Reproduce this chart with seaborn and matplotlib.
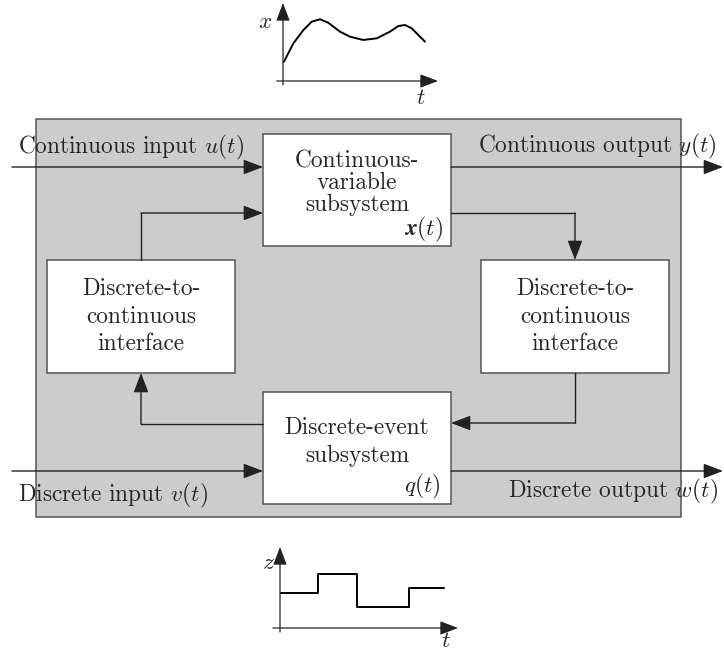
import matplotlib
matplotlib.use("Agg")
import matplotlib.pyplot as plt
import seaborn as sns
from matplotlib.patches import Rectangle

sns.set_theme(style="white")
plt.rcParams["font.family"] = ["cmr10", "DejaVu Serif"]
plt.rcParams["mathtext.fontset"] = "cm"
plt.rcParams["axes.unicode_minus"] = False

# continuous trajectory x(t)
t_cont = [0.06, 0.67, 1.32, 1.85, 2.39, 2.92, 3.68, 4.32, 5.18, 6.05, 6.90, 7.44, 7.87, 8.30, 8.73, 9.16]
x_cont = [2.47, 4.83, 6.54, 7.60, 7.91, 7.47, 6.32, 5.68, 5.26, 5.47, 6.32, 7.05, 7.18, 6.76, 5.90, 5.04]

# discrete state z(t), piecewise constant
t_disc = [0.0, 2.13, 4.33, 7.25, 9.2]
z_disc = [4.3, 6.7, 2.6, 4.9, 4.9]

W, H = 724, 652
FS = 16.8
fig = plt.figure(figsize=(W / 100, H / 100), dpi=100)
ax = fig.add_axes([0, 0, 1, 1])
ax.set_xlim(0, W)
ax.set_ylim(H, 0)
ax.axis("off")

LINE = "#222222"
EDGE = "#555555"
GRAY = "#cbccce"


def arrow(ax, start, end, lw=1.0, color=LINE, scale=12):
    ax.annotate("", xy=end, xytext=start,
                arrowprops=dict(arrowstyle="-|>,head_length=1.0,head_width=0.38",
                                lw=lw, color=color, shrinkA=0, shrinkB=0,
                                mutation_scale=scale),
                annotation_clip=False)


def box(ax, x0, y0, x1, y1, fc="white"):
    ax.add_patch(Rectangle((x0, y0), x1 - x0, y1 - y0, fc=fc, ec=EDGE, lw=1.1))


# hybrid system frame
box(ax, 36, 119, 681, 517, fc=GRAY)
box(ax, 263, 134, 451, 246)   # continuous-variable subsystem
box(ax, 47, 260, 235, 373)    # left interface
box(ax, 481, 260, 669, 373)   # right interface
box(ax, 263, 392, 451, 504)   # discrete-event subsystem

# signal paths
arrow(ax, (12, 167), (263, 167))
arrow(ax, (451, 167), (723, 167))
ax.plot([141, 141], [260, 213], color=LINE, lw=1.0)
arrow(ax, (141, 213), (263, 213))
ax.plot([451, 575], [213, 213], color=LINE, lw=1.0)
arrow(ax, (575, 213), (575, 260))
ax.plot([575, 575], [373, 423], color=LINE, lw=1.0)
arrow(ax, (575, 423), (451, 423))
ax.plot([263, 141], [424, 424], color=LINE, lw=1.0)
arrow(ax, (141, 424), (141, 373))
arrow(ax, (12, 471), (263, 471))
arrow(ax, (451, 471), (723, 471))

# labels
ax.text(18, 147, r"Continuous input $u(t)$", fontsize=FS, ha="left", va="center")
ax.text(717, 146, r"Continuous output $y(t)$", fontsize=FS, ha="right", va="center")
ax.text(18, 495, r"Discrete input $v(t)$", fontsize=FS, ha="left", va="center")
ax.text(718, 491, r"Discrete output $w(t)$", fontsize=FS, ha="right", va="center")

for txt, yy in zip(["Continuous-", "variable", "subsystem"], [161, 183, 205]):
    ax.text(357, yy, txt, fontsize=FS, ha="center", va="center")
ax.text(443, 229, r"$\boldsymbol{x}(t)$", fontsize=FS, ha="right", va="center")

for cx in [141, 575]:
    for txt, yy in zip(["Discrete-to-", "continuous", "interface"], [289, 317, 344]):
        ax.text(cx, yy, txt, fontsize=FS, ha="center", va="center")

for txt, yy in zip(["Discrete-event", "subsystem"], [428, 456]):
    ax.text(357, yy, txt, fontsize=FS, ha="center", va="center")
ax.text(441, 486, r"$q(t)$", fontsize=FS, ha="right", va="center")


def mini_axes(px0, px1, py_top, py_origin):
    a = fig.add_axes([px0 / W, 1 - py_origin / H, (px1 - px0) / W, (py_origin - py_top) / H])
    a.set_xlim(0, 10)
    a.set_ylim(0, 10)
    a.patch.set_alpha(0)
    a.axis("off")
    arrow(a, (-0.4, 0), (10, 0), lw=0.9, color=LINE, scale=11)
    arrow(a, (0, -0.5), (0, 10), lw=0.9, color=LINE, scale=11)
    return a


# top plot: continuous state
a1 = mini_axes(283, 438, 3, 81)
sns.lineplot(x=t_cont, y=x_cont, ax=a1, color="black", lw=1.4, sort=False, estimator=None)
ax.text(265, 22, r"$x$", fontsize=FS, ha="center", va="center")
ax.text(421, 98, r"$t$", fontsize=FS, ha="center", va="center")

# bottom plot: discrete state
a2 = mini_axes(280, 458, 547, 628)
sns.lineplot(x=t_disc, y=z_disc, ax=a2, color="black", lw=1.4, drawstyle="steps-post",
             estimator=None)
ax.text(268, 563, r"$z$", fontsize=FS, ha="center", va="center")
ax.text(446, 641, r"$t$", fontsize=FS, ha="center", va="center")

fig.savefig("out.png", dpi=100)
